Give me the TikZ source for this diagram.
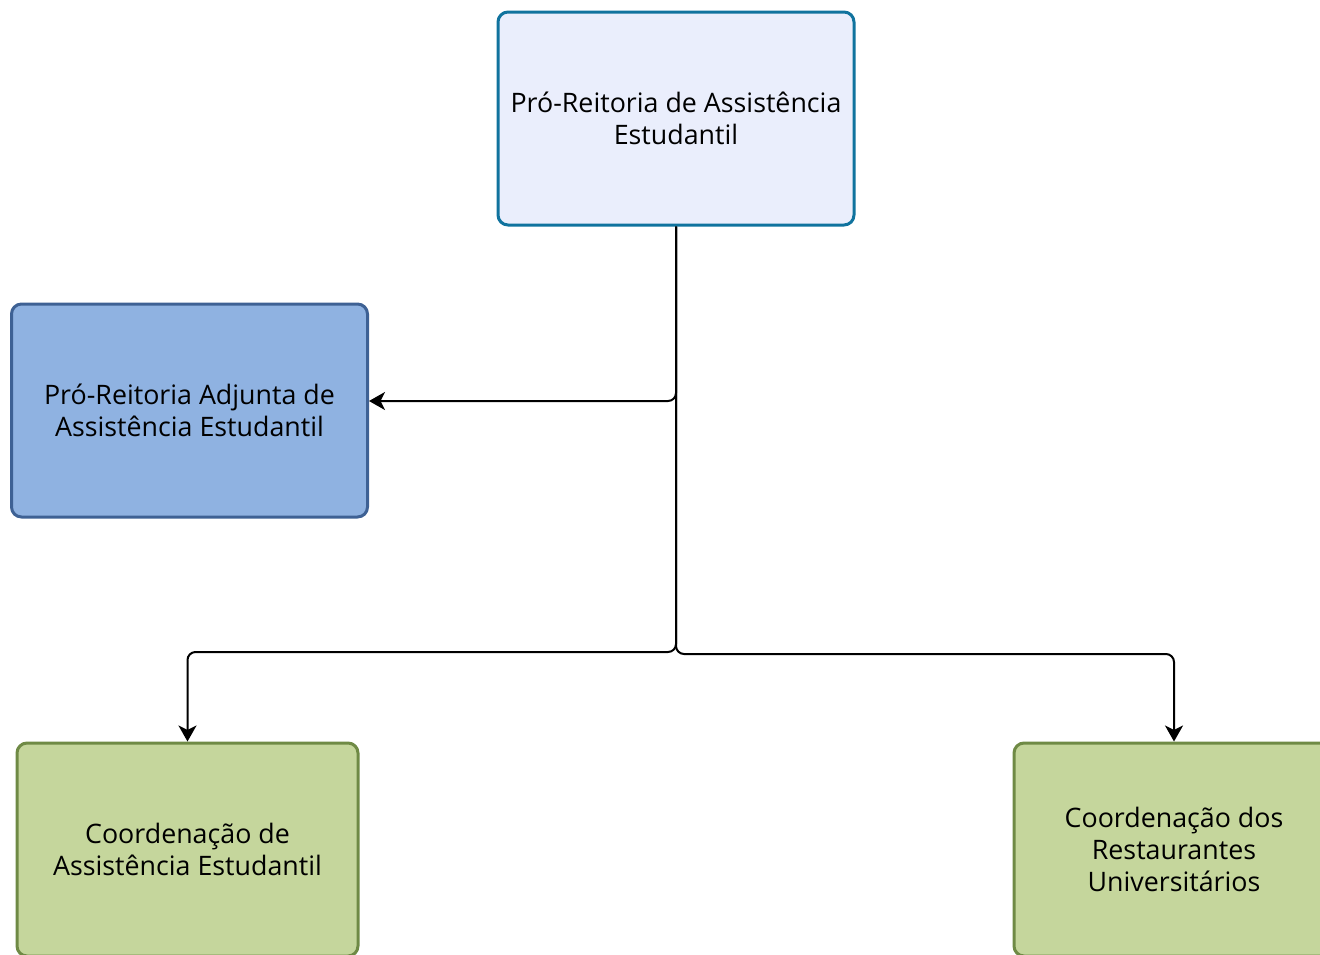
\documentclass[tikz,border=0pt]{standalone}
\usepackage{fontspec}
\setmainfont{Open Sans}
\usepackage{tikz}
\usetikzlibrary{arrows.meta,calc}
\definecolor{topfill}{HTML}{EAEEFC}
\definecolor{topdraw}{HTML}{10739E}
\definecolor{adjfill}{HTML}{8FB2E1}
\definecolor{adjdraw}{HTML}{3E6194}
\definecolor{coordfill}{HTML}{C5D69C}
\definecolor{coorddraw}{HTML}{6F8A45}

\begin{document}
\begin{tikzpicture}[x=0.5pt,y=-0.5pt,->,>={Stealth[length=8pt,width=9pt,inset=2.2pt]},
                    line width=1pt,rounded corners=4pt,font=\fontsize{13.4pt}{16pt}\selectfont]
  \tikzstyle{unit}=[rectangle,draw,line width=1.5pt,rounded corners=5pt,align=center,
                    minimum width=178pt,minimum height=106.5pt,inner sep=0pt]
  \tikzstyle{reitoria}=[unit,fill=topfill,draw=topdraw]
  \tikzstyle{adjunta}=[unit,fill=adjfill,draw=adjdraw]
  \tikzstyle{coord}=[unit,fill=coordfill,draw=coorddraw]

  \useasboundingbox (0,0) rectangle (1320,954);
  \clip[sharp corners] (0,0) rectangle (1320,954);

  \node[reitoria] (PRAE)   at (676,118.5)  {Pró-Reitoria de Assistência\\Estudantil};
  \node[adjunta] (PRAA)    at (189.5,410.5) {Pró-Reitoria Adjunta de\\Assistência Estudantil};
  \node[coord, minimum width=170.5pt] (CAE) at (187.5,849.5) {Coordenação de\\Assistência Estudantil};
  \node[coord, minimum width=160pt] (CRU) at (1174,849.5) {Coordenação dos\\Restaurantes\\Universitários};

  \coordinate (j1) at (676,401);
  \coordinate (j2) at (676,652);
  \coordinate (j3) at (676,654);

  \draw (PRAE.south) -- (j1) -- (PRAA.east |- j1);
  \draw (PRAE.south) -- (j2) -- (CAE.north |- j2) -- (CAE.north);
  \draw (PRAE.south) -- (j3) -- (CRU.north |- j3) -- (CRU.north);
\end{tikzpicture}
\end{document}
